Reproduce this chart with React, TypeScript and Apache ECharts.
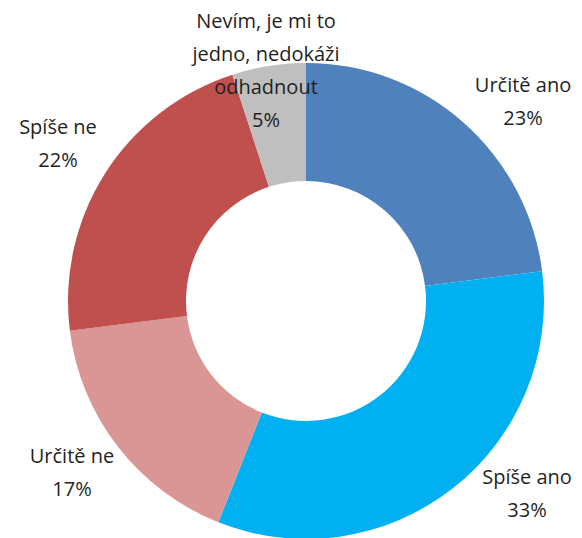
import React, { useEffect, useRef } from "react";
import * as echarts from "echarts";

const categories = [
  "Určitě ano",
  "Spíše ano",
  "Určitě ne",
  "Spíše ne",
  "Nevím, je mi to\njedno, nedokáži\nodhadnout",
];
const values = [23, 33, 17, 22, 5];
const colors = ["#4F81BD", "#00B0F0", "#D99694", "#C0504D", "#BFBFBF"];

// label centre positions (layout only)
const labelPos: [number, number][] = [
  [523, 101],
  [527, 493],
  [72, 472],
  [58, 143],
  [266, 70],
];

export default function App() {
  const ref = useRef<HTMLDivElement>(null);
  useEffect(() => {
    if (!ref.current) return;
    const chart = echarts.init(ref.current, undefined, { renderer: "svg" });
    chart.setOption({
      animation: false,
      backgroundColor: "#ffffff",
      series: [
        {
          type: "pie",
          center: [306, 301],
          radius: [120, 238],
          startAngle: 90,
          clockwise: true,
          avoidLabelOverlap: false,
          data: categories.map((c, i) => ({
            name: c,
            value: values[i],
            itemStyle: { color: colors[i] },
          })),
          itemStyle: { borderWidth: 0 },
          label: {
            show: true,
            position: "outside",
            formatter: "{b}\n{d}%",
            fontFamily: "'Open Sans', sans-serif",
            fontSize: 20,
            lineHeight: 33,
            color: "#1f1f1f",
            align: "center",
          },
          labelLine: { show: false },
          labelLayout: (params: any) => {
            const p = labelPos[params.dataIndex];
            return {
              x: p[0],
              y: p[1],
              align: "center",
              verticalAlign: "middle",
              hideOverlap: false,
            };
          },
          emphasis: { disabled: true },
        },
      ],
    });
    return () => chart.dispose();
  }, []);
  return (
    <div
      ref={ref}
      style={{ width: 582, height: 538, position: "absolute", left: 0, top: 0 }}
    />
  );
}
